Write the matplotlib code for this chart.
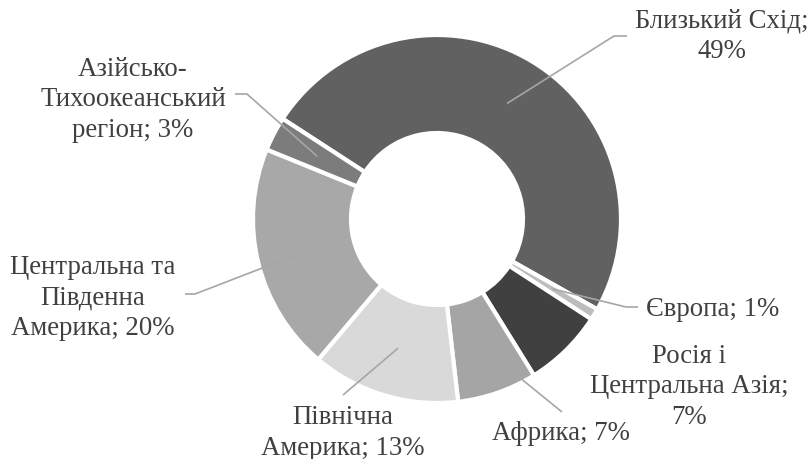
import numpy as np
import matplotlib
matplotlib.use("Agg")
import matplotlib.pyplot as plt

regions = ["Близький Схід", "Європа", "Росія і\nЦентральна Азія", "Африка",
           "Північна\nАмерика", "Центральна та\nПівденна\nАмерика",
           "Азійсько-\nТихоокеанський\nрегіон"]
shares = [49, 1, 7, 7, 13, 20, 3]
label_text = ["Близький Схід;\n49%", "Європа; 1%", "Росія і\nЦентральна Азія;\n7%",
              "Африка; 7%", "Північна\nАмерика; 13%",
              "Центральна та\nПівденна\nАмерика; 20%",
              "Азійсько-\nТихоокеанський\nрегіон; 3%"]
colors = ["#616161", "#bdbdbd", "#404040", "#a5a5a5", "#d9d9d9", "#a8a8a8", "#7c7c7c"]

W, H = 808, 460
fig = plt.figure(figsize=(W / 100, H / 100), dpi=100)
ax = fig.add_axes([0, 0, 1, 1])

cx, cy = 437, H - 220
R = 184
width = 98
start = 147
wedges, _ = ax.pie(shares, colors=colors, startangle=start, counterclock=False,
                   center=(cx, cy), radius=R, frame=True,
                   wedgeprops=dict(width=width, edgecolor="white", linewidth=3))
ax.set_xlim(0, W)
ax.set_ylim(0, H)
ax.set_aspect("equal")
ax.axis("off")

font = dict(family=["Liberation Serif", "DejaVu Serif"], fontsize=19.3, color="#404040", linespacing=1.28)
lc = "#a6a6a6"
rm = R - width / 2

layout = [
    (722, 36, "center", (614, 37), (627, 37)),
    (646, 310, "left", (626, 308), (638, 308)),
    (689, 387, "center", None, None),
    (561, 434, "center", (562, 413), None),
    (343, 433, "center", (343, 396), None),
    (93, 298, "center", (195, 295), (185, 295)),
    (133, 100, "center", (247, 95), (235, 95)),
]

for w, txt, (tx, ty, ha, elbow, end) in zip(wedges, label_text, layout):
    mid = np.deg2rad((w.theta1 + w.theta2) / 2)
    px, py = cx + rm * np.cos(mid), cy + rm * np.sin(mid)
    if elbow is not None:
        xs = [px, elbow[0]]
        ys = [py, H - elbow[1]]
        if end is not None:
            xs.append(end[0])
            ys.append(H - end[1])
        ax.plot(xs, ys, color=lc, lw=1.2, solid_capstyle="butt")
    ax.text(tx, H - ty, txt, ha=ha, va="center", **font)

fig.savefig("out.png", dpi=100)
